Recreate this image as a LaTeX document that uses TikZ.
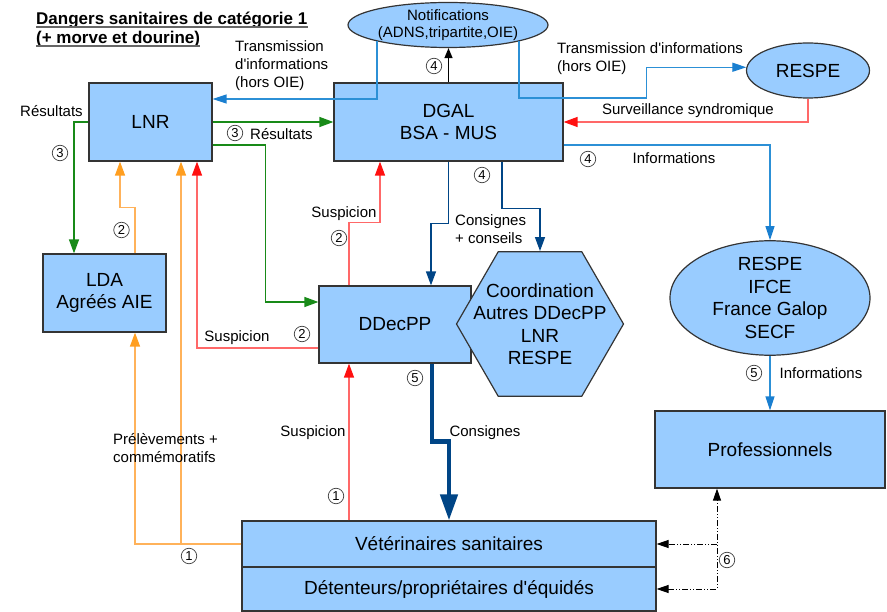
\documentclass[tikz,border=0pt]{standalone}
\usepackage{fontspec}
\setmainfont{Liberation Sans}
\usetikzlibrary{shapes.geometric, arrows.meta, positioning}

\definecolor{boxblue}{RGB}{153,204,255}
\definecolor{boxline}{RGB}{52,52,52}
\definecolor{greenln}{RGB}{24,138,24}
\definecolor{orangeln}{RGB}{255,178,90}
\definecolor{orangehd}{RGB}{255,158,32}
\definecolor{redln}{RGB}{255,104,104}
\definecolor{redhd}{RGB}{255,16,16}
\definecolor{infoln}{RGB}{44,144,214}
\definecolor{infohd}{RGB}{26,127,208}
\definecolor{darkln}{RGB}{0,69,134}

\newcommand{\aps}{\textquotesingle}

\tikzset{
  box/.style={draw=boxline, fill=boxblue, line width=1.2pt, inner sep=0pt,
    align=center, font=\fontsize{19}{22.5}\selectfont},
  blob/.style={box, ellipse},
  lbl/.style={inner sep=0pt, align=left, font=\fontsize{15}{18}\selectfont},
  num/.style={circle, draw=black!75, line width=0.7pt, inner sep=0pt, minimum size=15.5pt,
    font=\fontsize{13}{13}\selectfont},
  greenline/.style={draw=greenln, line width=1.3pt, -{Triangle[length=14pt,width=10pt]}},
  orangeline/.style={draw=orangeln, line width=1.3pt, -{Triangle[length=14pt,width=10pt,color=orangehd]}},
  redline/.style={draw=redln, line width=1.3pt, -{Triangle[length=14pt,width=10pt,color=redhd]}},
  infoline/.style={draw=infoln, line width=1.3pt, -{Triangle[length=14pt,width=9pt,color=infohd]}},
  darkline/.style={draw=darkln, line width=1.3pt, -{Triangle[length=14pt,width=10pt]}},
  thickline/.style={draw=darkln, line width=4.5pt, -{Triangle[length=26pt,width=17pt]}},
  blackline/.style={draw=black, line width=1.2pt, -{Triangle[length=10pt,width=8pt]}},
  dashline/.style={draw=black, line width=1pt, dash pattern=on 6pt off 2pt on 1pt off 2pt on 1pt off 2pt},
}

\begin{document}
\begin{tikzpicture}[x=1pt, y=-1pt]
\useasboundingbox (0,0) rectangle (887,612);

% title
\node[anchor=base west, inner sep=0pt, font=\bfseries\fontsize{17}{20}\selectfont] (title_a) at (36,25) {Dangers sanitaires de catégorie 1};
\node[anchor=base west, inner sep=0pt, font=\bfseries\fontsize{17}{20}\selectfont] (title_b) at (36,44) {(+ morve et dourine)};
\draw[line width=2pt, black!60] ([yshift=-2pt]title_a.base west) -- ([yshift=-2pt]title_a.base east);
\draw[line width=2pt, black!60] ([yshift=-2pt]title_b.base west) -- ([yshift=-2pt]title_b.base east);

% boxes
\node[box, minimum width=123pt, minimum height=78pt] (lnr) at (150.5,122) {LNR};
\node[box, minimum width=229pt, minimum height=78pt] (dgal) at (448.5,122) {DGAL\\BSA - MUS};
\node[blob, minimum width=200pt, minimum height=45pt, font=\fontsize{15}{17}\selectfont] (notif) at (448,25) {Notifications\\(ADNS,tripartite,OIE)};
\node[blob, minimum width=123pt, minimum height=55pt] (respe) at (808,70.5) {RESPE};
\node[box, minimum width=123pt, minimum height=78pt] (lda) at (104.5,293) {LDA\\Agréés AIE};
\node[box, minimum width=152pt, minimum height=77pt] (ddecpp) at (395,324.5) {DDecPP};
\node[box, regular polygon, regular polygon sides=6, minimum size=167pt] (coord) at (540,324) {};
\node[align=center, inner sep=0pt, font=\fontsize{19}{22.5}\selectfont] (coord_txt) at (coord.center) {Coordination\\Autres DDecPP\\LNR\\RESPE};
\node[blob, minimum width=200pt, minimum height=98pt] (infos) at (770,298) {RESPE\\IFCE\\France Galop\\SECF};
\node[box, minimum width=230pt, minimum height=77pt] (pro) at (770,449.5) {Professionnels};
\node[box, minimum width=414pt, minimum height=46pt] (veto) at (449,544) {Vétérinaires sanitaires};
\node[box, minimum width=414pt, minimum height=44pt] (deten) at (449,589) {Détenteurs/propriétaires d\aps équidés};

% information (hors OIE)
\draw[infoline] (notif.193) |- ([yshift=23pt]lnr.east);
\draw[infoline] (notif.347) |- ([xshift=-99.5pt,yshift=-27.5pt]respe.west) |- (respe.177);
\draw[infoline] ([yshift=-23pt]dgal.east) -| (infos.north);
\draw[infoline] (infos.south) -- (pro.north);

% notifications
\draw[blackline] (dgal.north) -- (dgal.north |- notif.south);

% surveillance
\draw[redline] (respe.south) |- (dgal.east);

% resultats
\draw[greenline] (lnr.east) -- (dgal.west);
\draw[greenline] ([yshift=-23pt]lnr.east) -| ([xshift=-53pt,yshift=22.5pt]ddecpp.west) -- ([yshift=22.5pt]ddecpp.west);
\draw[greenline] (lnr.west) -| ([xshift=-30.5pt]lda.north);

% prelevements
\draw[orangeline] ([xshift=30.5pt]lda.north) -- ++(0,-46) -| ([xshift=-30.5pt]lnr.south);
\draw[orangeline] (veto.west) -| ([xshift=30.5pt]lda.south);
\coordinate (lnr_in) at ([xshift=30.5pt]lnr.south);
\draw[orangeline] (lnr_in |- veto.west) -- (lnr_in);

% suspicion
\draw[redline] ([yshift=-23.5pt]ddecpp.west) -| ([xshift=46.5pt]lnr.south);
\draw[redline] ([xshift=-46pt]ddecpp.north) -- ++(0,-63) -| ([xshift=-68.5pt]dgal.south);
\draw[redline] ([xshift=-100pt]veto.north) -- ([xshift=-46pt]ddecpp.south);

% consignes
\draw[darkline] (dgal.south) -- ++(0,62) -| ([xshift=36pt]ddecpp.north);
\draw[darkline] ([xshift=53.5pt]dgal.south) -- ++(0,47) -| (coord.north);
\draw[thickline] ([xshift=37pt]ddecpp.south) -- ++(0,78) -| (veto.north);

% professionnels
\coordinate (pro_in) at ([xshift=-53pt]pro.south);
\draw[dashline, {Triangle[length=12pt,width=8pt]}-{Triangle[length=12pt,width=8pt]}] (deten.east) -| (pro_in);
\draw[dashline, -{Triangle[length=12pt,width=8pt]}] (pro_in |- veto.east) -- (veto.east);

% labels
\node[lbl, anchor=west] (res_l) at (20,111) {Résultats};
\node[num] (n3a) at (60,153) {3};
\node[num] (n3b) at (235,133) {3};
\node[lbl, anchor=west] (res_r) at (250,134) {Résultats};
\node[lbl, anchor=west] (trans_l) at (235,66) {Transmission\\d\aps informations\\(hors OIE)};
\node[num] (n4a) at (434,66) {4};
\node[lbl, anchor=west] (trans_r) at (557,59) {Transmission d\aps informations\\(hors OIE)};
\node[lbl] (surv) at (688,111) {Surveillance syndromique};
\node[num] (n4b) at (588,159) {4};
\node[lbl] (info_a) at (674,158) {Informations};
\node[num] (n4c) at (482,175) {4};
\node[lbl, anchor=west] (cons_a) at (455,229) {Consignes\\+ conseils};
\node[lbl] (susp_a) at (344,214) {Suspicion};
\node[num] (n2a) at (339,238) {2};
\node[num] (n2b) at (121.5,230) {2};
\node[lbl] (susp_b) at (237,338) {Suspicion};
\node[num] (n2c) at (302,334) {2};
\node[num] (n5a) at (415,378) {5};
\node[lbl] (cons_b) at (485,433) {Consignes};
\node[lbl] (susp_c) at (313,433) {Suspicion};
\node[num] (n1a) at (336,496) {1};
\node[lbl, anchor=west] (prel) at (113,448) {Prélèvements +\\commémoratifs};
\node[num] (n1b) at (189,556) {1};
\node[num] (n5b) at (754,373) {5};
\node[lbl] (info_b) at (821,373) {Informations};
\node[num] (n6) at (727,560) {6};
\end{tikzpicture}
\end{document}
